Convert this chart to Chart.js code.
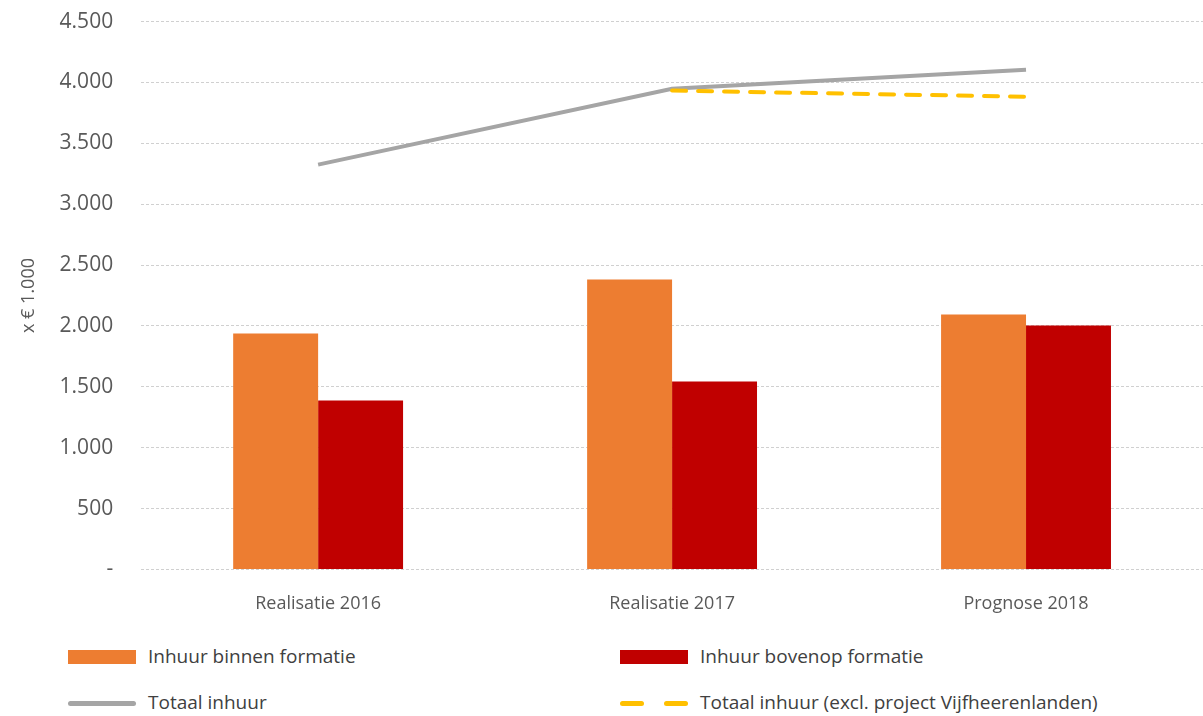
<!DOCTYPE html>
<html>
<head>
<meta charset="utf-8">
<script src="https://cdn.jsdelivr.net/npm/chart.js@4/dist/chart.umd.min.js"></script>
<style>
  body { margin: 0; background: #fff; font-family: "Open Sans", sans-serif; overflow: hidden; }
  #wrap { position: relative; width: 1203px; height: 716px; overflow: hidden; }
  #box { position: absolute; left: 0; top: -19px; width: 1203px; height: 650px; }
  .leg { position: absolute; font-size: 19px; color: #404040; line-height: 20px; }
  .sw { position: absolute; }
</style>
</head>
<body>
<div id="wrap">
  <div id="box"><canvas id="chart"></canvas></div>
  <div id="legend"></div>
</div>
<script>
// categories and values (x € 1.000)
let categories = ["Realisatie 2016", "Realisatie 2017", "Prognose 2018"];
let binnenFormatie = [1938, 2381, 2094];
let bovenopFormatie = [1388, 1544, 2003];
let totaalInhuur = [3325, 3949, 4105];
let totaalExcl = [null, 3933, 3883];

function formatNL(v) {
    if (v === 0) return "-";
    return String(v).replace(/\B(?=(\d{3})+(?!\d))/g, ".");
}

const fontFam = "'Open Sans', sans-serif";

const ctx = document.getElementById('chart').getContext('2d');
const chart = new Chart(ctx, {
    type: 'bar',
    data: {
        labels: categories,
        datasets: [
            {
                label: 'Inhuur binnen formatie',
                data: binnenFormatie,
                backgroundColor: '#ED7D31',
                order: 3
            },
            {
                label: 'Inhuur bovenop formatie',
                data: bovenopFormatie,
                backgroundColor: '#C00000',
                order: 3
            },
            {
                type: 'line',
                label: 'Totaal inhuur',
                data: totaalInhuur,
                borderColor: '#A5A5A5',
                borderWidth: 4,
                pointRadius: 0,
                tension: 0,
                order: 2
            },
            {
                type: 'line',
                label: 'Totaal inhuur (excl. project Vijfheerenlanden)',
                data: totaalExcl,
                borderColor: '#FFC000',
                borderWidth: 4,
                borderDash: [14, 12],
                borderCapStyle: 'round',
                pointRadius: 0,
                tension: 0,
                order: 1
            }
        ]
    },
    options: {
        responsive: true,
        maintainAspectRatio: false,
        animation: false,
        categoryPercentage: 0.48,
        barPercentage: 1,
        layout: { padding: { top: 0, right: -10, left: 18, bottom: 0 } },
        plugins: {
            legend: { display: false },
            tooltip: { enabled: false }
        },
        scales: {
            x: {
                grid: { display: false },
                border: { display: false },
                ticks: {
                    color: '#595959',
                    font: { size: 18, family: fontFam },
                    padding: 16
                }
            },
            y: {
                min: 0,
                max: 4500,
                grid: { color: '#D0D0D0', lineWidth: 1, drawTicks: false },
                border: { display: false, dash: [3, 2] },
                ticks: {
                    stepSize: 500,
                    color: '#595959',
                    padding: 28,
                    font: { size: 21, family: fontFam },
                    callback: function (v) { return formatNL(v); }
                },
                title: {
                    display: true,
                    text: 'x € 1.000',
                    color: '#595959',
                    font: { size: 18, family: fontFam },
                    padding: { top: 0, bottom: -8 }
                }
            }
        }
    }
});

// legend in two columns, like the original
const legendItems = [
    { text: 'Inhuur binnen formatie', kind: 'box', color: '#ED7D31', x: 68, y: 657 },
    { text: 'Inhuur bovenop formatie', kind: 'box', color: '#C00000', x: 620, y: 657 },
    { text: 'Totaal inhuur', kind: 'line', color: '#A5A5A5', x: 68, y: 703 },
    { text: 'Totaal inhuur (excl. project Vijfheerenlanden)', kind: 'dash', color: '#FFC000', x: 620, y: 703 }
];
const legend = document.getElementById('legend');
legendItems.forEach(function (it) {
    if (it.kind === 'dash') {
        for (let i = 0; i < 2; i++) {
            let d = document.createElement('div');
            d.className = 'sw';
            d.style.cssText = 'left:' + (it.x + i * 44) + 'px;top:' + (it.y - 2) + 'px;width:24px;height:5px;border-radius:3px;background:' + it.color;
            legend.appendChild(d);
        }
    } else {
        let s = document.createElement('div');
        s.className = 'sw';
        let h = it.kind === 'box' ? 14 : 5;
        s.style.cssText = 'left:' + it.x + 'px;top:' + (it.y - h / 2) + 'px;width:68px;height:' + h + 'px;background:' + it.color + (it.kind === 'line' ? ';border-radius:3px' : '');
        legend.appendChild(s);
    }
    let t = document.createElement('div');
    t.className = 'leg';
    t.textContent = it.text;
    t.style.left = (it.x + 80) + 'px';
    t.style.top = (it.y - 11) + 'px';
    legend.appendChild(t);
});
</script>
</body>
</html>
